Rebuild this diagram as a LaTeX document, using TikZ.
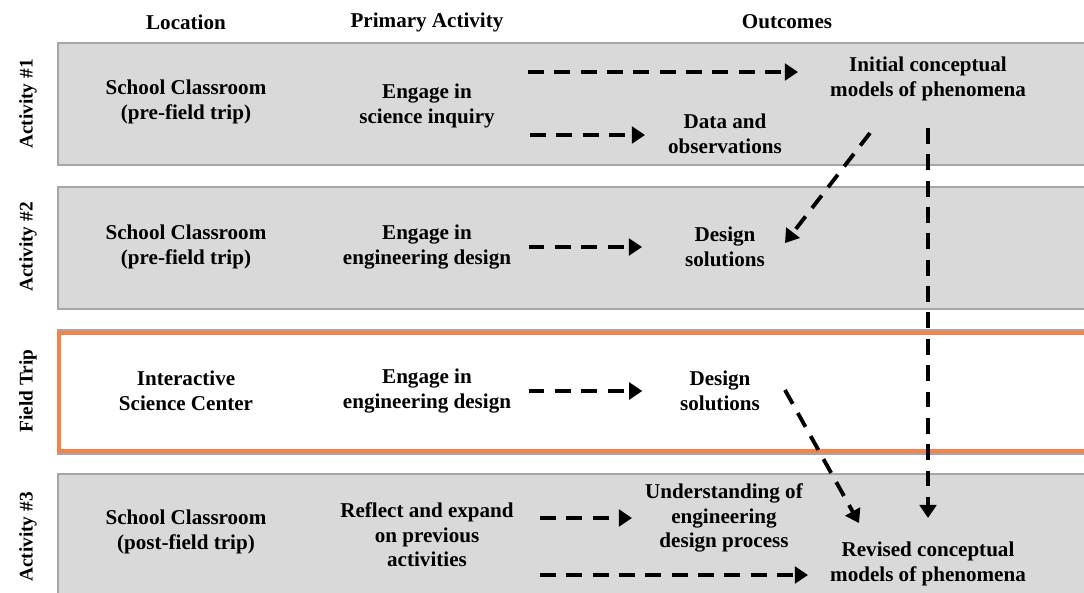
\documentclass[tikz,border=0pt]{standalone}
\usepackage{fontspec}
\setmainfont{Liberation Serif}
\usetikzlibrary{positioning}
\usetikzlibrary{arrows.meta}
\definecolor{bandgray}{HTML}{D9D9D9}
\definecolor{bandedge}{HTML}{A6A6A6}
\definecolor{tripedge}{HTML}{F4824A}

\begin{document}
\begin{tikzpicture}[x=0.02cm, y=-0.02cm,
    txt/.style={align=center, font=\fontsize{12}{14}\selectfont\bfseries},
    band/.style={fill=bandgray, draw=bandedge, line width=0.6pt},
    flow/.style={-{Triangle[length=7.5pt, width=9.5pt]}, line width=2.2pt, dash pattern=on 9pt off 6pt},
    rowlabel/.style={align=center, font=\fontsize{11}{14}\selectfont\bfseries, rotate=90}]
    \useasboundingbox (0,0) rectangle (1084,592);

    % bands
    \begin{scope}
        \clip (0,0) rectangle (1084,592);
        \fill[band] (58,43) rectangle (1110,165);
        \fill[band] (58,187) rectangle (1110,309);
        \draw[bandedge, fill=white, line width=0.6pt] (58,330) rectangle (1110,454);
        \draw[tripedge, line width=2.8pt] (59,333) rectangle (1110,451);
        \fill[band] (58,474) rectangle (1110,620);
    \end{scope}

    % headers
    \node (hloc) [txt] at (186,22) {Location};
    \node (hact) [txt] at (427,22) {Primary Activity};
    \node (hout) [txt] at (787,22) {Outcomes};

    % row labels
    \node (lab1) [rowlabel] at (28,104) {Activity \#1};
    \node (lab2) [rowlabel] at (28,247) {Activity \#2};
    \node (lab3) [rowlabel] at (28,391) {Field Trip};
    \node (lab4) [rowlabel] at (28,537) {Activity \#3};

    % activity 1
    \node (loc1) [txt] at (186,102) {School Classroom\\(pre-field trip)};
    \node (act1) [txt] at (427,106) {Engage in\\science inquiry};
    \node (mod1) [txt] at (928,79) {Initial conceptual\\models of phenomena};
    \node (dat1) [txt] at (725,134) {Data and\\observations};

    % activity 2
    \node (loc2) [txt] at (186,247) {School Classroom\\(pre-field trip)};
    \node (act2) [txt] at (427,247) {Engage in\\engineering design};
    \node (des2) [txt] at (725,247) {Design\\solutions};

    % field trip
    \node (loc3) [txt] at (186,391) {Interactive\\Science Center};
    \node (act3) [txt] at (427,391) {Engage in\\engineering design};
    \node (des3) [txt] at (720,391) {Design\\solutions};

    % activity 3
    \node (loc4) [txt] at (186,532) {School Classroom\\(post-field trip)};
    \node (act4) [txt] at (427,535) {Reflect and expand\\on previous\\activities};
    \node (und4) [txt] at (724,518) {Understanding of\\engineering\\design process};
    \node (mod4) [txt] at (928,564) {Revised conceptual\\models of phenomena};

    % arrow ends
    \coordinate (s1a) at (528,72);
    \coordinate (e1a) at (798,72);
    \coordinate (s1b) at (530,135);
    \coordinate (e1b) at (645,135);
    \coordinate (s4a) at (540,518);
    \coordinate (e4a) at (632,518);
    \coordinate (s4b) at (540,575);
    \coordinate (e4b) at (808,575);
    \coordinate (sv) at (928,128);
    \coordinate (ev) at (928,518);
    \coordinate (sd1) at (870,133);
    \coordinate (ed1) at (785,243);
    \coordinate (sd2) at (785,390);
    \coordinate (ed2) at (859,523);

    % connectors
    \draw[flow] (s1a) -- (e1a);
    \draw[flow] (s1b) -- (e1b);
    \draw[flow, shorten <=6.5pt, shorten >=21pt] (act2) -- (des2);
    \draw[flow, shorten <=6.5pt, shorten >=18pt] (act3) -- (des3);
    \draw[flow] (s4a) -- (e4a);
    \draw[flow] (s4b) -- (e4b);
    \draw[flow] (sv) -- (ev);
    \draw[flow] (sd1) -- (ed1);
    \draw[flow] (sd2) -- (ed2);
\end{tikzpicture}
\end{document}
